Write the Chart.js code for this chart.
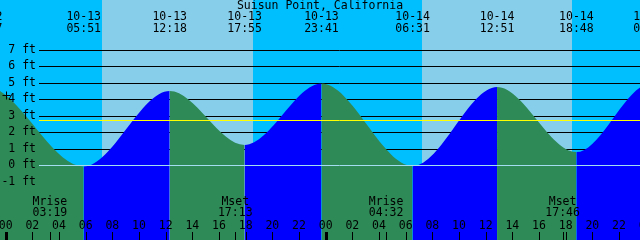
<!DOCTYPE html>
<html>
<head>
<meta charset="utf-8">
<script src="https://cdn.jsdelivr.net/npm/chart.js@4.4.1/dist/chart.umd.min.js"></script>
<style>
html,body{margin:0;padding:0;background:#fff;}
canvas{display:block;}
</style>
</head>
<body>
<canvas id="c" width="640" height="240"></canvas>
<script>
// ---- data ----
const title = "Suisun Point, California";
// tide extremes (dates/times/heights in ft); first and last are just off-screen
const tideDates   = ["10-12","10-12","10-13","10-13","10-13","10-13","10-14","10-14","10-14","10-15","10-15"];
const tideTimes   = ["16:30","22:27","05:51","12:18","17:55","23:41","06:31","12:51","18:48","00:22","06:50"];
const tideHeights = [1.0, 4.8, -0.08, 4.5, 1.23, 4.95, -0.05, 4.74, 0.8, 4.95, 0.3];
// sunrise / sunset (day bands)
const sunDates = ["10-13","10-13","10-14","10-14"];
const sunTimes = ["07:12","18:32","07:14","18:29"];
// moon events
const moonNames = ["Mrise","Mset","Mrise","Mset"];
const moonDates = ["10-13","10-13","10-14","10-14"];
const moonTimes = ["03:19","17:13","04:32","17:46"];
// axis ticks
const hourTicks = [0,2,4,6,8,10,12,14,16,18,20,22,24,26,28,30,32,34,36,38,40,42,44,46,48];
const feetTicks = [-1,0,1,2,3,4,5,6,7];
const meanLevel = 2.72;
const midnightLevel = 4.25;

// ---- helpers ----
function toHours(d, t) {
  const day = parseInt(d.split("-")[1], 10);
  const [h, m] = t.split(":").map(Number);
  return (day - 13) * 24 + h + m / 60;
}
const tidePoints = tideTimes.map((t, i) => ({x: toHours(tideDates[i], t), y: tideHeights[i]}));

const FONT = '11.5px "DejaVu Sans Mono", "Liberation Mono", monospace';
const NIGHT = '#00BFFF', DAY = '#87CEEB', EBB = '#2E8B57', FLOOD = '#0000FF';

const tidePlugin = {
  id: 'tide',
  beforeDatasetsDraw(chart) {
    const {ctx, chartArea: a, scales: {x, y}} = chart;
    ctx.save();
    ctx.fillStyle = NIGHT;
    ctx.fillRect(a.left, a.top, a.right - a.left, a.bottom - a.top);
    ctx.fillStyle = DAY;
    for (let i = 0; i + 1 < sunTimes.length; i += 2) {
      const x0 = Math.round(x.getPixelForValue(toHours(sunDates[i], sunTimes[i])));
      const x1 = Math.round(x.getPixelForValue(toHours(sunDates[i + 1], sunTimes[i + 1])));
      ctx.fillRect(x0, a.top, x1 - x0, a.bottom - a.top);
    }
    ctx.strokeStyle = '#000';
    ctx.lineWidth = 1;
    feetTicks.forEach(f => {
      if (f <= 0) return;
      const py = Math.round(y.getPixelForValue(f)) + 0.5;
      ctx.beginPath(); ctx.moveTo(39, py); ctx.lineTo(a.right, py); ctx.stroke();
    });
    ctx.restore();
  },
  afterDatasetsDraw(chart) {
    const {ctx, chartArea: a, scales: {x, y}} = chart;
    ctx.save();
    // datum and mean lines
    let py = Math.round(y.getPixelForValue(0)) + 0.5;
    ctx.strokeStyle = '#a4dcf2'; ctx.lineWidth = 1;
    ctx.beginPath(); ctx.moveTo(39, py); ctx.lineTo(a.right, py); ctx.stroke();
    py = Math.round(y.getPixelForValue(meanLevel)) + 0.5;
    ctx.strokeStyle = '#FFFF00';
    ctx.beginPath(); ctx.moveTo(39, py); ctx.lineTo(a.right, py); ctx.stroke();

    ctx.fillStyle = '#000';
    ctx.font = FONT;
    // y labels
    ctx.textAlign = 'right'; ctx.textBaseline = 'middle';
    feetTicks.forEach(f => {
      ctx.fillText(f + ' ft', 36, Math.round(y.getPixelForValue(f)));
    });
    // midnight marker
    const mx = Math.round(x.getPixelForValue(0)) + 0.5, my = Math.round(y.getPixelForValue(midnightLevel)) + 0.5;
    ctx.strokeStyle = '#000';
    ctx.beginPath();
    ctx.moveTo(mx - 4, my); ctx.lineTo(mx + 4, my);
    ctx.moveTo(mx, my - 4); ctx.lineTo(mx, my + 4);
    ctx.stroke();

    // title
    ctx.textAlign = 'center';
    ctx.fillText(title, (a.left + a.right) / 2, 6);
    // tide event labels
    tidePoints.forEach((p, i) => {
      const px = x.getPixelForValue(p.x);
      ctx.fillText(tideDates[i], px, 17.5);
      ctx.fillText(tideTimes[i], px, 29);
    });
    // moon labels + ticks
    moonNames.forEach((n, i) => {
      const px = x.getPixelForValue(toHours(moonDates[i], moonTimes[i]));
      ctx.fillText(n, px, 202.5);
      ctx.fillText(moonTimes[i], px, 213);
      const tx = Math.round(px) + 0.5;
      ctx.beginPath(); ctx.moveTo(tx, 232); ctx.lineTo(tx, a.bottom); ctx.stroke();
    });
    // hour ticks
    hourTicks.forEach(h => {
      const px = x.getPixelForValue(h);
      const lbl = String(h % 24).padStart(2, '0');
      ctx.fillText(lbl, px, 226);
      if (h % 24 === 0) {
        ctx.fillRect(Math.round(px) - 1, 232, 3, a.bottom - 232);
      } else {
        const tx = Math.round(px) + 0.5;
        ctx.beginPath(); ctx.moveTo(tx, 232); ctx.lineTo(tx, a.bottom); ctx.stroke();
      }
    });
    ctx.restore();
  }
};

new Chart(document.getElementById('c'), {
  type: 'line',
  data: {
    datasets: [{
      data: tidePoints,
      cubicInterpolationMode: 'monotone',
      fill: 'start',
      backgroundColor: EBB,
      borderColor: 'rgba(0,0,0,0)',
      borderWidth: 0,
      pointRadius: 0,
      segment: {
        backgroundColor: c => (c.p1.parsed.y > c.p0.parsed.y ? FLOOD : EBB)
      }
    }]
  },
  options: {
    responsive: false,
    animation: false,
    devicePixelRatio: 1,
    layout: {padding: 0},
    scales: {
      x: {type: 'linear', display: false, min: -0.4275, max: 47.5725},
      y: {type: 'linear', display: false, min: -4.527, max: 10.018}
    },
    plugins: {legend: {display: false}, tooltip: {enabled: false}}
  },
  plugins: [tidePlugin]
});
</script>
</body>
</html>
